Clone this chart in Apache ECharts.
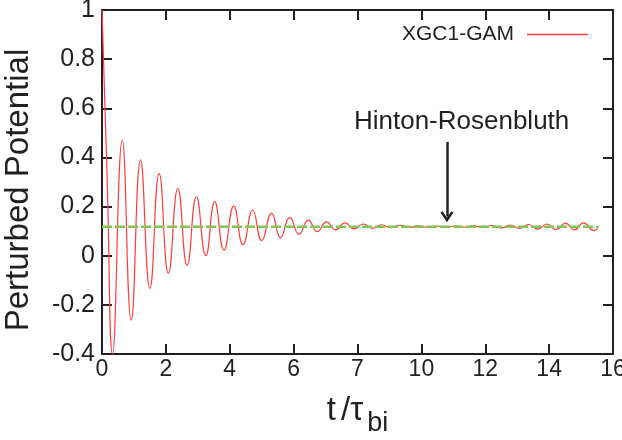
<!DOCTYPE html>
<html>
<head>
<meta charset="utf-8">
<script src="https://cdn.jsdelivr.net/npm/echarts@6/dist/echarts.min.js"></script>
<style>html,body{margin:0;padding:0;background:#fff;}#c{width:622px;height:440px;}</style>
</head>
<body>
<div id="c"></div>
<script>
// ---- data ----
const seriesName = 'XGC1-GAM';
const tValues = [0, 0.16, 0.33, 0.634, 0.916, 1.206, 1.50, 1.79, 2.08, 2.375, 2.666, 2.956, 3.25, 3.53, 3.82, 4.125, 4.415, 4.72, 5.0, 5.31, 5.59, 5.88, 6.17, 6.46, 6.74, 7.03, 7.32, 7.61, 7.89, 8.18, 8.47, 8.76, 9.04, 9.33, 9.62, 9.91, 10.19, 10.48, 10.77, 11.06, 11.34, 11.63, 11.92, 12.21, 12.49, 12.78, 13.07, 13.36, 13.64, 13.93, 14.22, 14.51, 14.79, 15.08, 15.40, 15.52];
const phiValues = [1.0, 0.32, -0.40, 0.471, -0.262, 0.39, -0.133, 0.335, -0.072, 0.274, -0.04, 0.24, 0.0, 0.22, 0.023, 0.202, 0.045, 0.186, 0.061, 0.172, 0.073, 0.156, 0.087, 0.145, 0.098, 0.138, 0.105, 0.134, 0.109, 0.129, 0.112, 0.126, 0.114, 0.124, 0.115, 0.122, 0.116, 0.121, 0.117, 0.121, 0.116, 0.122, 0.115, 0.123, 0.113, 0.125, 0.111, 0.127, 0.108, 0.129, 0.106, 0.133, 0.105, 0.134, 0.102, 0.110];
const hrT = [0, 15.55];
const hrLevel = [0.118, 0.118];
const arrowT = 10.8;
const arrowFrom = 0.463;
const arrowTo = 0.159;
const annotText = 'Hinton-Rosenbluth';
const annotPos = [11.26, 0.545];
const xTickLabels = ['0', '2', '4', '6', '7', '10', '12', '14', '16'];
const yTickLabels = ['-0.4', '-0.2', '0', '0.2', '0.4', '0.6', '0.8', '1'];
const xMin = 0, xMax = 16, xStep = 2;
const yMin = -0.4, yMax = 1, yStep = 0.2;

const FONT = 'Liberation Sans, Arial, Helvetica, sans-serif';
const INK = '#231f20';

const chart = echarts.init(document.getElementById('c'), null, {renderer: 'canvas'});

const axisLine = {show: true, onZero: false, lineStyle: {color: INK, width: 2}};
const tickIn = {show: true, inside: true, length: 10, lineStyle: {color: INK, width: 2}};

chart.setOption({
  animation: false,
  backgroundColor: '#fff',
  grid: {left: 102, right: 9, top: 10, bottom: 86, containLabel: false, outerBoundsMode: 'none'},
  legend: {
    data: [{name: seriesName, icon: 'rect'}],
    right: 29, top: 19,
    align: 'right',
    itemWidth: 61, itemHeight: 1.6,
    textStyle: {fontFamily: FONT, fontSize: 21, color: INK, padding: [0, 8, 0, 0]}
  },
  xAxis: [{
    type: 'value', min: xMin, max: xMax, interval: xStep,
    axisLine: axisLine, axisTick: tickIn, splitLine: {show: false},
    axisLabel: {
      fontFamily: FONT, fontSize: 23, color: INK, margin: 4,
      formatter: v => xTickLabels[Math.round((v - xMin) / xStep)]
    },
    name: '{t|t}{sl|/}{tau|τ}{sub|bi}',
    nameLocation: 'middle', nameGap: 27,
    nameTextStyle: {
      fontFamily: FONT, color: INK,
      rich: {
        t: {fontFamily: FONT, fontSize: 33, lineHeight: 33, color: INK},
        sl: {fontFamily: FONT, fontSize: 33, lineHeight: 33, color: INK, padding: [0, 0, 0, 5]},
        tau: {fontFamily: FONT, fontSize: 33, lineHeight: 33, color: INK},
        sub: {fontFamily: FONT, fontSize: 27, lineHeight: 27, color: INK, padding: [24, 0, 0, 4]}
      }
    }
  }, {
    type: 'value', position: 'top', min: xMin, max: xMax, interval: xStep,
    axisLine: axisLine, axisTick: tickIn, axisLabel: {show: false}, splitLine: {show: false}
  }],
  yAxis: [{
    type: 'value', min: yMin, max: yMax, interval: yStep,
    axisLine: axisLine, axisTick: tickIn, splitLine: {show: false},
    axisLabel: {
      fontFamily: FONT, fontSize: 25, color: INK, margin: 7,
      formatter: v => yTickLabels[Math.round((v - yMin) / yStep)]
    },
    name: 'Perturbed Potential',
    nameLocation: 'middle', nameGap: 67,
    nameTextStyle: {fontFamily: FONT, fontSize: 33, color: INK, padding: [0, 16, 0, 0]}
  }, {
    type: 'value', position: 'right', min: yMin, max: yMax, interval: yStep,
    axisLine: axisLine, axisTick: tickIn, axisLabel: {show: false}, splitLine: {show: false}
  }],
  series: [{
    name: seriesName,
    type: 'line',
    xAxisIndex: 0, yAxisIndex: 0,
    data: tValues.map((t, i) => [t, phiValues[i]]),
    symbol: 'none',
    smooth: 0.5,
    lineStyle: {color: '#ff3b3b', width: 1.2},
    itemStyle: {color: '#ff3b3b'},
    z: 2
  }, {
    name: 'HR',
    type: 'line',
    xAxisIndex: 0, yAxisIndex: 0,
    data: hrT.map((t, i) => [t, hrLevel[i]]),
    symbol: 'none',
    lineStyle: {color: '#84c451', width: 2.6, type: [10, 3]},
    z: 3,
    markLine: {
      silent: true,
      symbol: ['none', 'path://M6,0 L12,10 L10,11.5 L6,4.5 L2,11.5 L0,10 Z'],
      symbolSize: [13, 11],
      lineStyle: {color: INK, width: 2.5, type: 'solid'},
      itemStyle: {color: INK},
      label: {show: false},
      data: [[{coord: [arrowT, arrowFrom]}, {coord: [arrowT, arrowTo]}]]
    },
    markPoint: {
      silent: true,
      symbolSize: 0,
      label: {show: true, position: 'inside', formatter: annotText, fontFamily: FONT, fontSize: 26, color: INK},
      data: [{coord: annotPos}]
    }
  }]
});
</script>
</body>
</html>
